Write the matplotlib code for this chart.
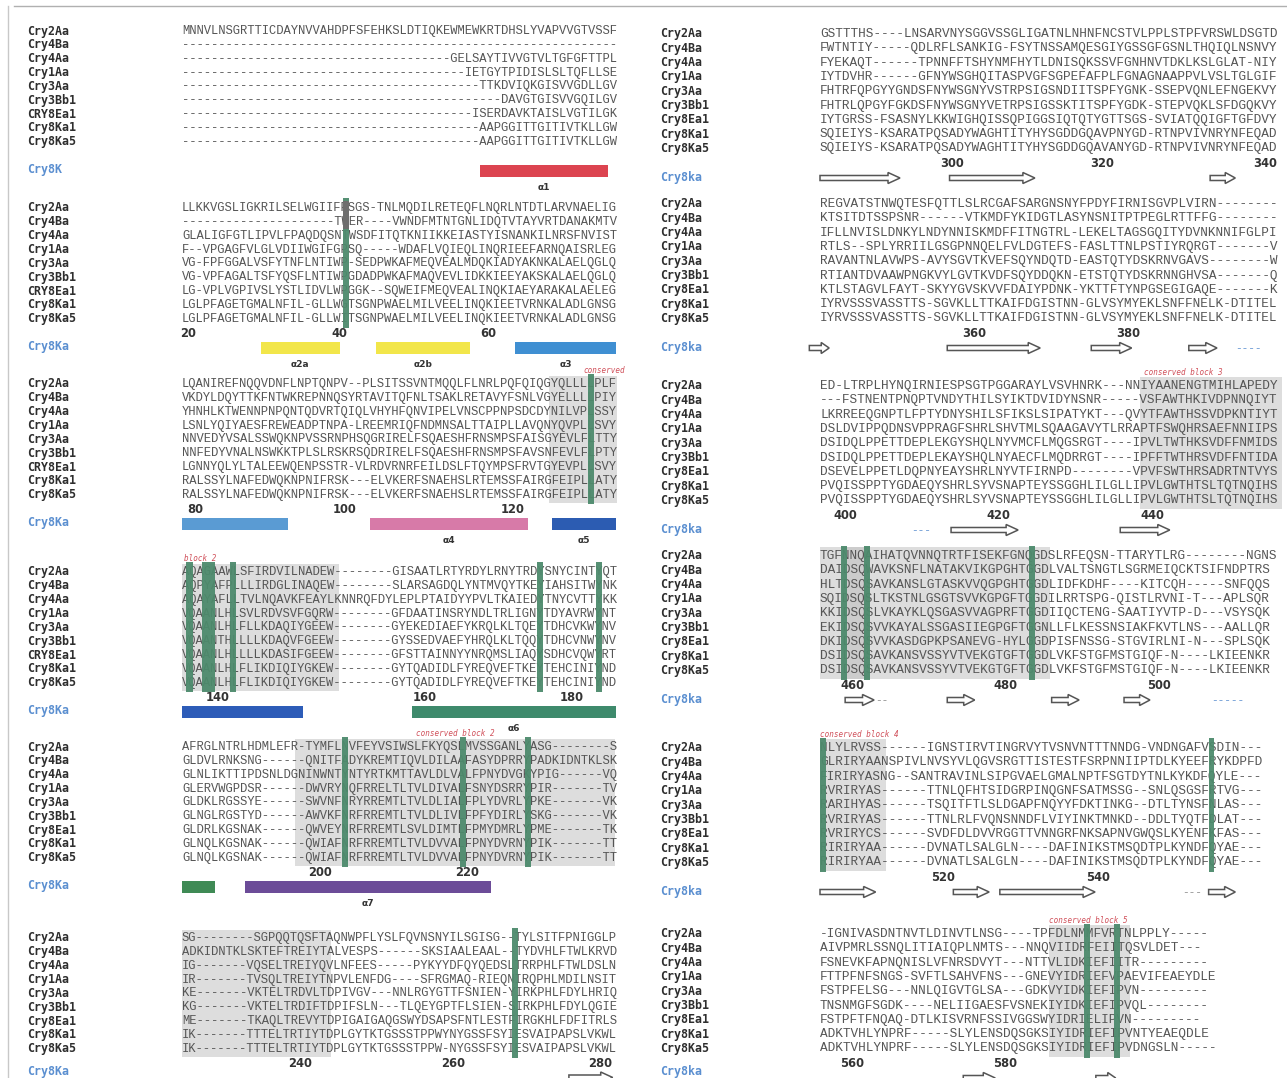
import matplotlib
matplotlib.use("Agg")
import matplotlib.pyplot as plt
from matplotlib.patches import Rectangle, FancyArrow

W, H = 1287, 1078

# ---- data: sequence names and aligned blocks ----
names_a = ["Cry2Aa", "Cry4Ba", "Cry4Aa", "Cry1Aa", "Cry3Aa", "Cry3Bb1", "CRY8Ea1", "Cry8Ka1", "Cry8Ka5"]
names_b = ["Cry2Aa", "Cry4Ba", "Cry4Aa", "Cry1Aa", "Cry3Aa", "Cry3Bb1", "Cry8Ea1", "Cry8Ka1", "Cry8Ka5"]

left_block1 = [
    "MNNVLNSGRTTICDAYNVVAHDPFSFEHKSLDTIQKEWMEWKRTDHSLYVAPVVGTVSSF",
    "------------------------------------------------------------",
    "-------------------------------------GELSAYTIVVGTVLTGFGFTTPL",
    "---------------------------------------IETGYTPIDISLSLTQFLLSE",
    "-----------------------------------------TTKDVIQKGISVVGDLLGV",
    "--------------------------------------------DAVGTGISVVGQILGV",
    "----------------------------------------ISERDAVKTAISLVGTILGK",
    "-----------------------------------------AAPGGITTGITIVTKLLGW",
    "-----------------------------------------AAPGGITTGITIVTKLLGW",
]
left_block2 = [
    "LLKKVGSLIGKRILSELWGIIFPSGS-TNLMQDILRETEQFLNQRLNTDTLARVNAELIG",
    "---------------------TWER----VWNDFMTNTGNLIDQTVTAYVRTDANAKMTV",
    "GLALIGFGTLIPVLFPAQDQSNTWSDFITQTKNIIKKEIASTYISNANKILNRSFNVIST",
    "F--VPGAGFVLGLVDIIWGIFGPSQ-----WDAFLVQIEQLINQRIEEFARNQAISRLEG",
    "VG-FPFGGALVSFYTNFLNTIWP-SEDPWKAFMEQVEALMDQKIADYAKNKALAELQGLQ",
    "VG-VPFAGALTSFYQSFLNTIWPGDADPWKAFMAQVEVLIDKKIEEYAKSKALAELQGLQ",
    "LG-VPLVGPIVSLYSTLIDVLWPGGK--SQWEIFMEQVEALINQKIAEYARAKALAELEG",
    "LGLPFAGETGMALNFIL-GLLWGTSGNPWAELMILVEELINQKIEETVRNKALADLGNSG",
    "LGLPFAGETGMALNFIL-GLLWITSGNPWAELMILVEELINQKIEETVRNKALADLGNSG",
]
left_block3 = [
    "LQANIREFNQQVDNFLNPTQNPV--PLSITSSVNTMQQLFLNRLPQFQIQGYQLLLLPLF",
    "VKDYLDQYTTKFNTWKREPNNQSYRTAVITQFNLTSAKLRETAVYFSNLVGYELLLLPIY",
    "YHNHLKTWENNPNPQNTQDVRTQIQLVHYHFQNVIPELVNSCPPNPSDCDYNILVPLSSY",
    "LSNLYQIYAESFREWEADPTNPA-LREEMRIQFNDMNSALTTAIPLLAVQNYQVPLLSVY",
    "NNVEDYVSALSSWQKNPVSSRNPHSQGRIRELFSQAESHFRNSMPSFAISGYEVLFLTTY",
    "NNFEDYVNALNSWKKTPLSLRSKRSQDRIRELFSQAESHFRNSMPSFAVSNFEVLFLPTY",
    "LGNNYQLYLTALEEWQENPSSTR-VLRDVRNRFEILDSLFTQYMPSFRVTGYEVPLLSVY",
    "RALSSYLNAFEDWQKNPNIFRSK---ELVKERFSNAEHSLRTEMSSFAIRGFEIPLLATY",
    "RALSSYLNAFEDWQKNPNIFRSK---ELVKERFSNAEHSLRTEMSSFAIRGFEIPLLATY",
]
left_block4 = [
    "AQAGAAWLSFIRDVILNADEW--------GISAATLRTYRDYLRNYTRDYSNYCINTYQT",
    "AQPYAFPLLLIRDGLINAQEW--------SLARSAGDQLYNTMVQYTKEYIAHSITWYNK",
    "AQAYAFLLTVLNQAVKFEAYLKNNRQFDYLEPLPTAIDYYPVLTKAIEDYTNYCVTTYKK",
    "VQAANLHLSVLRDVSVFGQRW--------GFDAATINSRYNDLTRLIGNYTDYAVRWYNT",
    "VQAANLHLFLLKDAQIYGEEW--------GYEKEDIAEFYKRQLKLTQEYTDHCVKWYNV",
    "VQAANTHLLLLKDAQVFGEEW--------GYSSEDVAEFYHRQLKLTQQYTDHCVNWYNV",
    "VQAANLHLLLLKDASIFGEEW--------GFSTTAINNYYNRQMSLIAQYSDHCVQWYRT",
    "VQAANLHLFLIKDIQIYGKEW--------GYTQADIDLFYREQVEFTKEYTEHCINIYND",
    "VQAANLHLFLIKDIQIYGKEW--------GYTQADIDLFYREQVEFTKEYTEHCINIYND",
]
left_block5 = [
    "AFRGLNTRLHDMLEFR-TYMFLNVFEYVSIWSLFKYQSLMVSSGANLYASG--------S",
    "GLDVLRNKSNG------QNITFADYKREMTIQVLDILAAFASYDPRRYPADKIDNTKLSK",
    "GLNLIKTTIPDSNLDGNINWNTYNTYRTKMTTAVLDLVALFPNYDVGKYPIG------VQ",
    "GLERVWGPDSR------DWVRYNQFRRELTLTVLDIVALFSNYDSRRYPIR-------TV",
    "GLDKLRGSSYE------SWVNFNRYRREMTLTVLDLIALFPLYDVRLYPKE-------VK",
    "GLNGLRGSTYD------AWVKFNRFRREMTLTVLDLIVLFPFYDIRLYSKG-------VK",
    "GLDRLKGSNAK------QWVEYNRFRREMTLSVLDIMTLFPMYDMRLYPME-------TK",
    "GLNQLKGSNAK------QWIAFNRFRREMTLTVLDVVALFPNYDVRNYPIK-------TT",
    "GLNQLKGSNAK------QWIAFNRFRREMTLTVLDVVALFPNYDVRNYPIK-------TT",
]
left_block6 = [
    "SG--------SGPQQTQSFTAQNWPFLYSLFQVNSNYILSGISG--TYLSITFPNIGGLP",
    "ADKIDNTKLSKTEFTREIYTALVESPS------SKSIAALEAAL--TYDVHLFTWLKRVD",
    "IG-------VQSELTREIYQVLNFEES-----PYKYYDFQYQEDSLTRRPHLFTWLDSLN",
    "IR-------TVSQLTREIYTNPVLENFDG----SFRGMAQ-RIEQNIRQPHLMDILNSIT",
    "KE-------VKTELTRDVLTDPIVGV---NNLRGYGTTFSNIEN-YIRKPHLFDYLHRIQ",
    "KG-------VKTELTRDIFTDPIFSLN---TLQEYGPTFLSIEN-SIRKPHLFDYLQGIE",
    "ME-------TKAQLTREVYTDPIGAIGAQGSWYDSAPSFNTLESTFIRGKHLFDFITRLS",
    "IK-------TTTELTRTIYTDPLGYTKTGSSSTPPWYNYGSSFSYIESVAIPAPSLVKWL",
    "IK-------TTTELTRTIYTDPLGYTKTGSSSTPPW-NYGSSFSYIESVAIPAPSLVKWL",
]
right_block1 = [
    "GSTTTHS----LNSARVNYSGGVSSGLIGATNLNHNFNCSTVLPPLSTPFVRSWLDSGTD",
    "FWTNTIY-----QDLRFLSANKIG-FSYTNSSAMQESGIYGSSGFGSNLTHQIQLNSNVY",
    "FYEKAQT------TPNNFFTSHYNMFHYTLDNISQKSSVFGNHNVTDKLKSLGLAT-NIY",
    "IYTDVHR------GFNYWSGHQITASPVGFSGPEFAFPLFGNAGNAAPPVLVSLTGLGIF",
    "FHTRFQPGYYGNDSFNYWSGNYVSTRPSIGSNDIITSPFYGNK-SSEPVQNLEFNGEKVY",
    "FHTRLQPGYFGKDSFNYWSGNYVETRPSIGSSKTITSPFYGDK-STEPVQKLSFDGQKVY",
    "IYTGRSS-FSASNYLKKWIGHQISSQPIGGSIQTQTYGTTSGS-SVIATQQIGFTGFDVY",
    "SQIEIYS-KSARATPQSADYWAGHTITYHYSGDDGQAVPNYGD-RTNPVIVNRYNFEQAD",
    "SQIEIYS-KSARATPQSADYWAGHTITYHYSGDDGQAVANYGD-RTNPVIVNRYNFEQAD",
]
right_block2 = [
    "REGVATSTNWQTESFQTTLSLRCGAFSARGNSNYFPDYFIRNISGVPLVIRN--------",
    "KTSITDTSSPSNR------VTKMDFYKIDGTLASYNSNITPTPEGLRTTFFG--------",
    "IFLLNVISLDNKYLNDYNNISKMDFFITNGTRL-LEKELTAGSGQITYDVNKNNIFGLPI",
    "RTLS--SPLYRRIILGSGPNNQELFVLDGTEFS-FASLTTNLPSTIYRQRGT-------V",
    "RAVANTNLAVWPS-AVYSGVTKVEFSQYNDQTD-EASTQTYDSKRNVGAVS--------W",
    "RTIANTDVAAWPNGKVYLGVTKVDFSQYDDQKN-ETSTQTYDSKRNNGHVSA-------Q",
    "KTLSTAGVLFAYT-SKYYGVSKVVFDAIYPDNK-YKTTFTYNPGSEGIGAQE-------K",
    "IYRVSSSVASSTTS-SGVKLLTTKAIFDGISTNN-GLVSYMYEKLSNFFNELK-DTITEL",
    "IYRVSSSVASSTTS-SGVKLLTTKAIFDGISTNN-GLVSYMYEKLSNFFNELK-DTITEL",
]
right_block3 = [
    "ED-LTRPLHYNQIRNIESPSGTPGGARAYLVSVHNRK---NNIYAANENGTMIHLAPEDY",
    "---FSTNENTPNQPTVNDYTHILSYIKTDVIDYNSNR-----VSFAWTHKIVDPNNQIYT",
    "LKRREEQGNPTLFPTYDNYSHILSFIKSLSIPATYKT---QVYTFAWTHSSVDPKNTIYT",
    "DSLDVIPPQDNSVPPRAGFSHRLSHVTMLSQAAGAVYTLRRAPTFSWQHRSAEFNNIIPS",
    "DSIDQLPPETTDEPLEKGYSHQLNYVMCFLMQGSRGT----IPVLTWTHKSVDFFNMIDS",
    "DSIDQLPPETTDEPLEKAYSHQLNYAECFLMQDRRGT----IPFFTWTHRSVDFFNTIDA",
    "DSEVELPPETLDQPNYEAYSHRLNYVTFIRNPD--------VPVFSWTHRSADRTNTVYS",
    "PVQISSPPTYGDAEQYSHRLSYVSNAPTEYSSGGHLILGLLIPVLGWTHTSLTQTNQIHS",
    "PVQISSPPTYGDAEQYSHRLSYVSNAPTEYSSGGHLILGLLIPVLGWTHTSLTQTNQIHS",
]
right_block4 = [
    "TGFNNQAIHATQVNNQTRTFISEKFGNQGDSLRFEQSN-TTARYTLRG--------NGNS",
    "DAIDSQWAVKSNFLNATAKVIKGPGHTGGDLVALTSNGTLSGRMEIQCKTSIFNDPTRS",
    "HLTDSQSAVKANSLGTASKVVQGPGHTGGDLIDFKDHF----KITCQH-----SNFQQS",
    "SQIDSQSLTKSTNLGSGTSVVKGPGFTGGDILRRTSPG-QISTLRVNI-T---APLSQR",
    "KKIDSQSLVKAYKLQSGASVVAGPRFTGGDIIQCTENG-SAATIYVTP-D---VSYSQK",
    "EKIDSQSVVKAYALSSGASIIEGPGFTGGNLLFLKESSNSIAKFKVTLNS---AALLQR",
    "DKIDSQSVVKASDGPKPSANEVG-HYLGGDPISFNSSG-STGVIRLNI-N---SPLSQK",
    "DSIDSQSAVKANSVSSYVTVEKGTGFTGGDLVKFSTGFMSTGIQF-N----LKIEENKR",
    "DSIDSQSAVKANSVSSYVTVEKGTGFTGGDLVKFSTGFMSTGIQF-N----LKIEENKR",
]
right_block5 = [
    "NLYLRVSS------IGNSTIRVTINGRVYTVSNVNTTTNNDG-VNDNGAFVSDIN---",
    "GLRIRYAANSPIVLNVSYVLQGVSRGTTISTESTFSRPNNIIPTDLKYEEFRYKDPFD",
    "FIRIRYASNG--SANTRAVINLSIPGVAELGMALNPTFSGTDYTNLKYKDFQYLE---",
    "RVRIRYAS------TTNLQFHTSIDGRPINQGNFSATMSSG--SNLQSGSFRTVG---",
    "RARIHYAS------TSQITFTLSLDGAPFNQYYFDKTINKG--DTLTYNSFNLAS---",
    "RVRIRYAS------TTNLRLFVQNSNNDFLVIYINKTMNKD--DDLTYQTFDLAT---",
    "RVRIRYCS------SVDFDLDVVRGGTTVNNGRFNKSAPNVGWQSLKYENFKFAS---",
    "RIRIRYAA------DVNATLSALGLN----DAFINIKSTMSQDTPLKYNDFQYAE---",
    "RIRIRYAA------DVNATLSALGLN----DAFINIKSTMSQDTPLKYNDFQYAE---",
]
right_block6 = [
    "-IGNIVASDNTNVTLDINVTLNSG----TPFDLNMMFVRTNLPPLY-----",
    "AIVPMRLSSNQLITIAIQPLNMTS---NNQVIIDRFEIITQSVLDET---",
    "FSNEVKFAPNQNISLVFNRSDVYT---NTTVLIDKIEFIITR---------",
    "FTTPFNFSNGS-SVFTLSAHVFNS---GNEVYIDRIEFVPAEVIFEAEYDLE",
    "FSTPFELSG---NNLQIGVTGLSA---GDKVYIDKIEFIPVN---------",
    "TNSNMGFSGDK----NELIIGAESFVSNEKIYIDKIEFIPVQL--------",
    "FSTPFTFNQAQ-DTLKISVRNFSSIVGGSWYIDRIELIPVN---------",
    "ADKTVHLYNPRF-----SLYLENSDQSGKSIYIDRIEFIPVNTYEAEQDLE",
    "ADKTVHLYNPRF-----SLYLENSDQSGKSIYIDRIEFIPVDNGSLN-----",
]

left_blocks = [left_block1, left_block2, left_block3, left_block4, left_block5, left_block6]
right_blocks = [right_block1, right_block2, right_block3, right_block4, right_block5, right_block6]
left_names = [names_a, names_a, names_a, names_a, names_b, names_b]
right_names = [names_b] * 6
left_ss_name = ["Cry8K", "Cry8Ka", "Cry8Ka", "Cry8Ka", "Cry8Ka", "Cry8Ka"]

# residue numbers (Cry8Ka1) and the column they sit under
left_numbers = [[], [("20", 0.8), ("40", 21.6), ("60", 41.9)],
                [("80", 1.8), ("100", 22.3), ("120", 45.3)],
                [("140", 4.9), ("160", 33.3), ("180", 53.4)],
                [("200", 18.9), ("220", 39.0)],
                [("240", 16.2), ("260", 37.1), ("280", 57.3)]]
right_numbers = [[("300", 17.3), ("320", 37.0), ("340", 58.4)],
                 [("360", 20.3), ("380", 40.4)],
                 [("400", 3.3), ("420", 23.4), ("440", 43.6)],
                 [("460", 4.3), ("480", 24.3), ("500", 44.5)],
                 [("520", 16.1), ("540", 36.5)],
                 [("560", 4.2), ("580", 24.3)]]

# helices of Cry8Ka: block, first col, last col, colour, label
helices = [
    (0, 40.8, 58.4, "#dc4450", "α1"),
    (1, 10.8, 21.6, "#f2e64a", "α2a"),
    (1, 26.6, 39.5, "#f2e64a", "α2b"),
    (1, 45.6, 59.5, "#3f8fd2", "α3"),
    (2, 0.0, 14.5, "#5a9bd3", ""),
    (2, 25.8, 47.4, "#d77aa8", "α4"),
    (2, 50.7, 59.5, "#2c5cb2", "α5"),
    (3, 0.0, 16.6, "#2d5cb8", ""),
    (3, 31.5, 59.5, "#3e8a6c", "α6"),
    (4, 0.0, 4.5, "#3f8a55", ""),
    (4, 8.6, 42.3, "#6c4c98", "α7"),
]
# beta strands: side, block, first col, last col
strands = [
    ("R", 0, 0.0, 10.5), ("R", 0, 17.0, 28.2), ("R", 0, 51.2, 54.5),
    ("R", 1, -1.4, 1.2), ("R", 1, 16.7, 28.9), ("R", 1, 35.6, 40.9), ("R", 1, 48.4, 52.1),
    ("R", 2, 17.2, 26.0), ("R", 2, 39.4, 45.9),
    ("R", 3, 3.3, 7.1), ("R", 3, 16.7, 20.3), ("R", 3, 30.4, 34.0), ("R", 3, 39.9, 43.3),
    ("R", 4, 0.0, 7.3), ("R", 4, 17.5, 22.2), ("R", 4, 23.6, 36.1), ("R", 4, 51.0, 54.5),
    ("R", 5, 18.8, 23.0), ("R", 5, 36.2, 38.8),
    ("L", 5, 53.0, 59.0),
]
coils = [("R", 1, 54.5, "----", "#5b8fd0"), ("R", 2, 12.0, "---", "#5b8fd0"),
         ("R", 3, 7.3, "--", "#888888"), ("R", 3, 51.3, "-----", "#5b8fd0"),
         ("R", 4, 47.5, "---", "#888888")]

# conserved block shading / marks: side, block, col0, col1
shades = [("L", 2, 50.3, 59.6), ("L", 3, 0.0, 21.5), ("L", 4, 15.5, 59.3),
          ("L", 5, 0.0, 20.4), ("R", 2, 42.0, 60.6), ("R", 3, 0.0, 30.2),
          ("R", 4, 0.0, 8.7), ("R", 5, 30.0, 40.7), ("R", 3, 3.0, 6.5)]
green_bars = [("L", 1, 22.0, 0.9), ("L", 2, 55.6, 0.8), ("L", 3, 0.6, 0.9),
              ("L", 3, 2.7, 1.8), ("L", 3, 6.6, 0.8), ("L", 3, 48.6, 0.8),
              ("L", 3, 56.7, 0.8), ("L", 4, 21.9, 0.8), ("L", 4, 38.1, 0.8),
              ("L", 4, 47.0, 0.8), ("L", 5, 45.2, 0.8), ("R", 3, 2.8, 0.8),
              ("R", 3, 5.8, 0.8), ("R", 3, 27.4, 0.8), ("R", 4, 0.0, 0.8),
              ("R", 4, 51.0, 0.7), ("R", 5, 34.6, 0.8), ("R", 5, 38.6, 0.8)]
block_labels = [("L", 2, 55.0, "conserved"), ("L", 3, 0.3, "block 2"),
                ("L", 4, 32.0, "conserved block 2"), ("R", 2, 42.5, "conserved block 3"),
                ("R", 4, 0.0, "conserved block 4"), ("R", 5, 30.0, "conserved block 5")]

# ---- layout ----
SEQ_X0 = {"L": 182, "R": 820}
PITCH = {"L": 7.3, "R": 7.62}
NAME_X = {"L": 27, "R": 660}
TOPS = {"L": [31, 208, 384, 572, 747, 938], "R": [34, 204, 386, 556, 748, 934]}
ROW = {"L": 13.85, "R": 14.3}
MONO = "Liberation Mono"


def cx(side, c):
    return SEQ_X0[side] + c * PITCH[side]


def ry(side, b, r):
    return TOPS[side][b] + r * ROW[side]


fig = plt.figure(figsize=(W / 100, H / 100), dpi=100)
ax = fig.add_axes([0, 0, 1, 1])
ax.set_xlim(0, W)
ax.set_ylim(H, 0)
ax.axis("off")

# scan border
ax.plot([14, W], [6, 6], color="#b0b0b0", lw=1)
ax.plot([8, 8], [6, H], color="#c8c8c8", lw=1)

for side, blocks, bnames in (("L", left_blocks, left_names), ("R", right_blocks, right_names)):
    fs = PITCH[side] / (0.6 * 100 / 72)
    for b, rows in enumerate(blocks):
        for r, (nm, seq) in enumerate(zip(bnames[b], rows)):
            y = ry(side, b, r)
            ax.text(NAME_X[side], y, nm, family="DejaVu Sans Mono", fontsize=8.4,
                    fontweight="bold", color="#2e2e2e", va="center", ha="left")
            ax.text(cx(side, 0), y, seq, family=MONO, fontsize=fs, color="#555555",
                    va="center", ha="left", zorder=2)
        lab = left_ss_name[b] if side == "L" else "Cry8ka"
        # last block label sits on the page's lower edge
        ylab = min(ry(side, b, 10), H - 7)
        ax.text(NAME_X[side], ylab, lab, family="DejaVu Sans Mono", fontsize=8.4,
                fontweight="bold", color="#5b8fd0", va="center", ha="left")
        nums = left_numbers[b] if side == "L" else right_numbers[b]
        for txt, c in nums:
            ax.text(cx(side, c), ry(side, b, 9.05), txt, fontsize=8.3, fontweight="bold",
                    color="#333333", ha="center", va="center")

for side, b, c0, c1 in shades:
    y0 = ry(side, b, -0.6)
    y1 = ry(side, b, 8.6)
    ax.add_patch(Rectangle((cx(side, c0), y0), (c1 - c0) * PITCH[side], y1 - y0,
                           color="#bdbdbd", alpha=0.5, lw=0, zorder=1))

for side, b, c0, w in green_bars:
    y0 = ry(side, b, -0.7)
    y1 = ry(side, b, 8.7)
    ax.add_patch(Rectangle((cx(side, c0), y0), w * PITCH[side], y1 - y0,
                           color="#4d8a6c", alpha=0.95, lw=0, zorder=3))
# dark grey cap on the left block 2 mark
ax.add_patch(Rectangle((cx("L", 22.0), ry("L", 1, -0.5)), 0.9 * PITCH["L"],
                       2 * ROW["L"], color="#6e6e6e", lw=0, zorder=4))

for side, b, c, txt in block_labels:
    ax.text(cx(side, c), ry(side, b, -0.95), txt, family="DejaVu Sans Mono",
            fontsize=5.5, style="italic", color="#d0505a", ha="left", va="center")

for b, c0, c1, col, lab in helices:
    yc = ry("L", b, 10) + 1
    ax.add_patch(Rectangle((cx("L", c0), yc - 6), (c1 - c0) * PITCH["L"], 12,
                           color=col, lw=0, zorder=2))
    if lab:
        ax.text(cx("L", (c0 + c1) / 2), yc + 17, lab, fontsize=6.5, fontweight="bold",
                color="#333333", ha="center", va="center")

for side, b, c0, c1 in strands:
    yc = ry(side, b, 10) + 1
    x0 = cx(side, c0)
    length = (c1 - c0) * PITCH[side]
    ax.add_patch(FancyArrow(x0, yc, length, 0, width=5, head_width=11,
                            head_length=min(12, length * 0.4), length_includes_head=True,
                            fc="white", ec="#555555", lw=1.1, zorder=3))

for side, b, c, txt, col in coils:
    ax.text(cx(side, c), ry(side, b, 10) + 1, txt, family=MONO, fontsize=8,
            color=col, ha="left", va="center")

fig.savefig("out.png", dpi=100, facecolor="white")
